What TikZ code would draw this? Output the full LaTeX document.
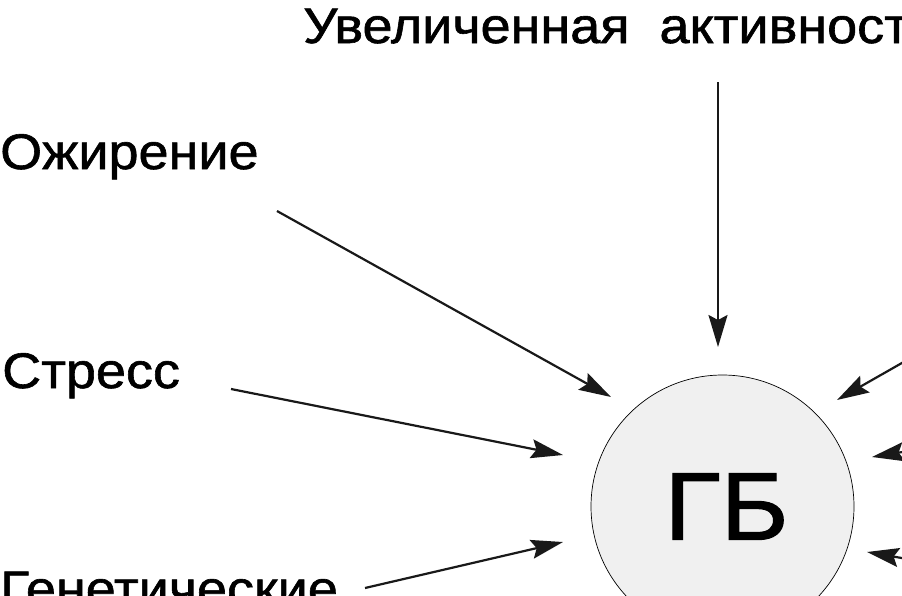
\documentclass[tikz,border=0pt]{standalone}
\usepackage{fontspec}
\setmainfont{Liberation Sans}
\newfontfamily\labelfont[FakeStretch=1.08, FakeBold=1.2]{Liberation Sans}
\usetikzlibrary{arrows.meta}

\begin{document}
\begin{tikzpicture}[x=1pt, y=-1pt, >={Stealth[length=32pt, width=19pt, inset=5pt]}]
\tikzset{factor/.style = {anchor=base west, inner sep=0pt,
  font=\labelfont\fontsize{50}{60}\selectfont},
  link/.style = {->, line width=2.2pt, draw=black!90}}

  \useasboundingbox (0,0) rectangle (902,595);
  \clip (0,0) rectangle (902,595);

  \node[circle, draw, fill=gray!12, line width=0.7pt, minimum size=263pt,
    inner sep=0pt, text depth=0pt,
    font=\labelfont\fontsize{96}{110}\selectfont] 
    (gb) at (722.5,506.5) {\hspace{8pt}ГБ};

  \node[factor] (activity) at (303,43) {Увеличенная\hspace{0.6em}активност};
  \node[factor] (obesity) at (0,169) {Ожирение};
  \node[factor] (stress) at (2,388) {Стресс};
  \node[factor] (genetic) at (0,606) {Генетические};

  % arrow ends
  \coordinate (activity-from) at (718,82);
  \coordinate (activity-to) at (718,347);
  \coordinate (obesity-from) at (277,211);
  \coordinate (obesity-to) at (611,397);
  \coordinate (stress-from) at (231,389);
  \coordinate (stress-to) at (563,455);
  \coordinate (genetic-from) at (365,588);
  \coordinate (genetic-to) at (563,542);
  \coordinate (upper-from) at (1000,307);
  \coordinate (upper-to) at (837,400);
  \coordinate (middle-from) at (1000,436);
  \coordinate (middle-to) at (872,457);
  \coordinate (lower-from) at (1000,575);
  \coordinate (lower-to) at (867,552);

  \foreach \f in {activity,obesity,stress,genetic,upper,middle,lower}
    \draw[link] (\f-from) -- (\f-to);

\end{tikzpicture}
\end{document}
